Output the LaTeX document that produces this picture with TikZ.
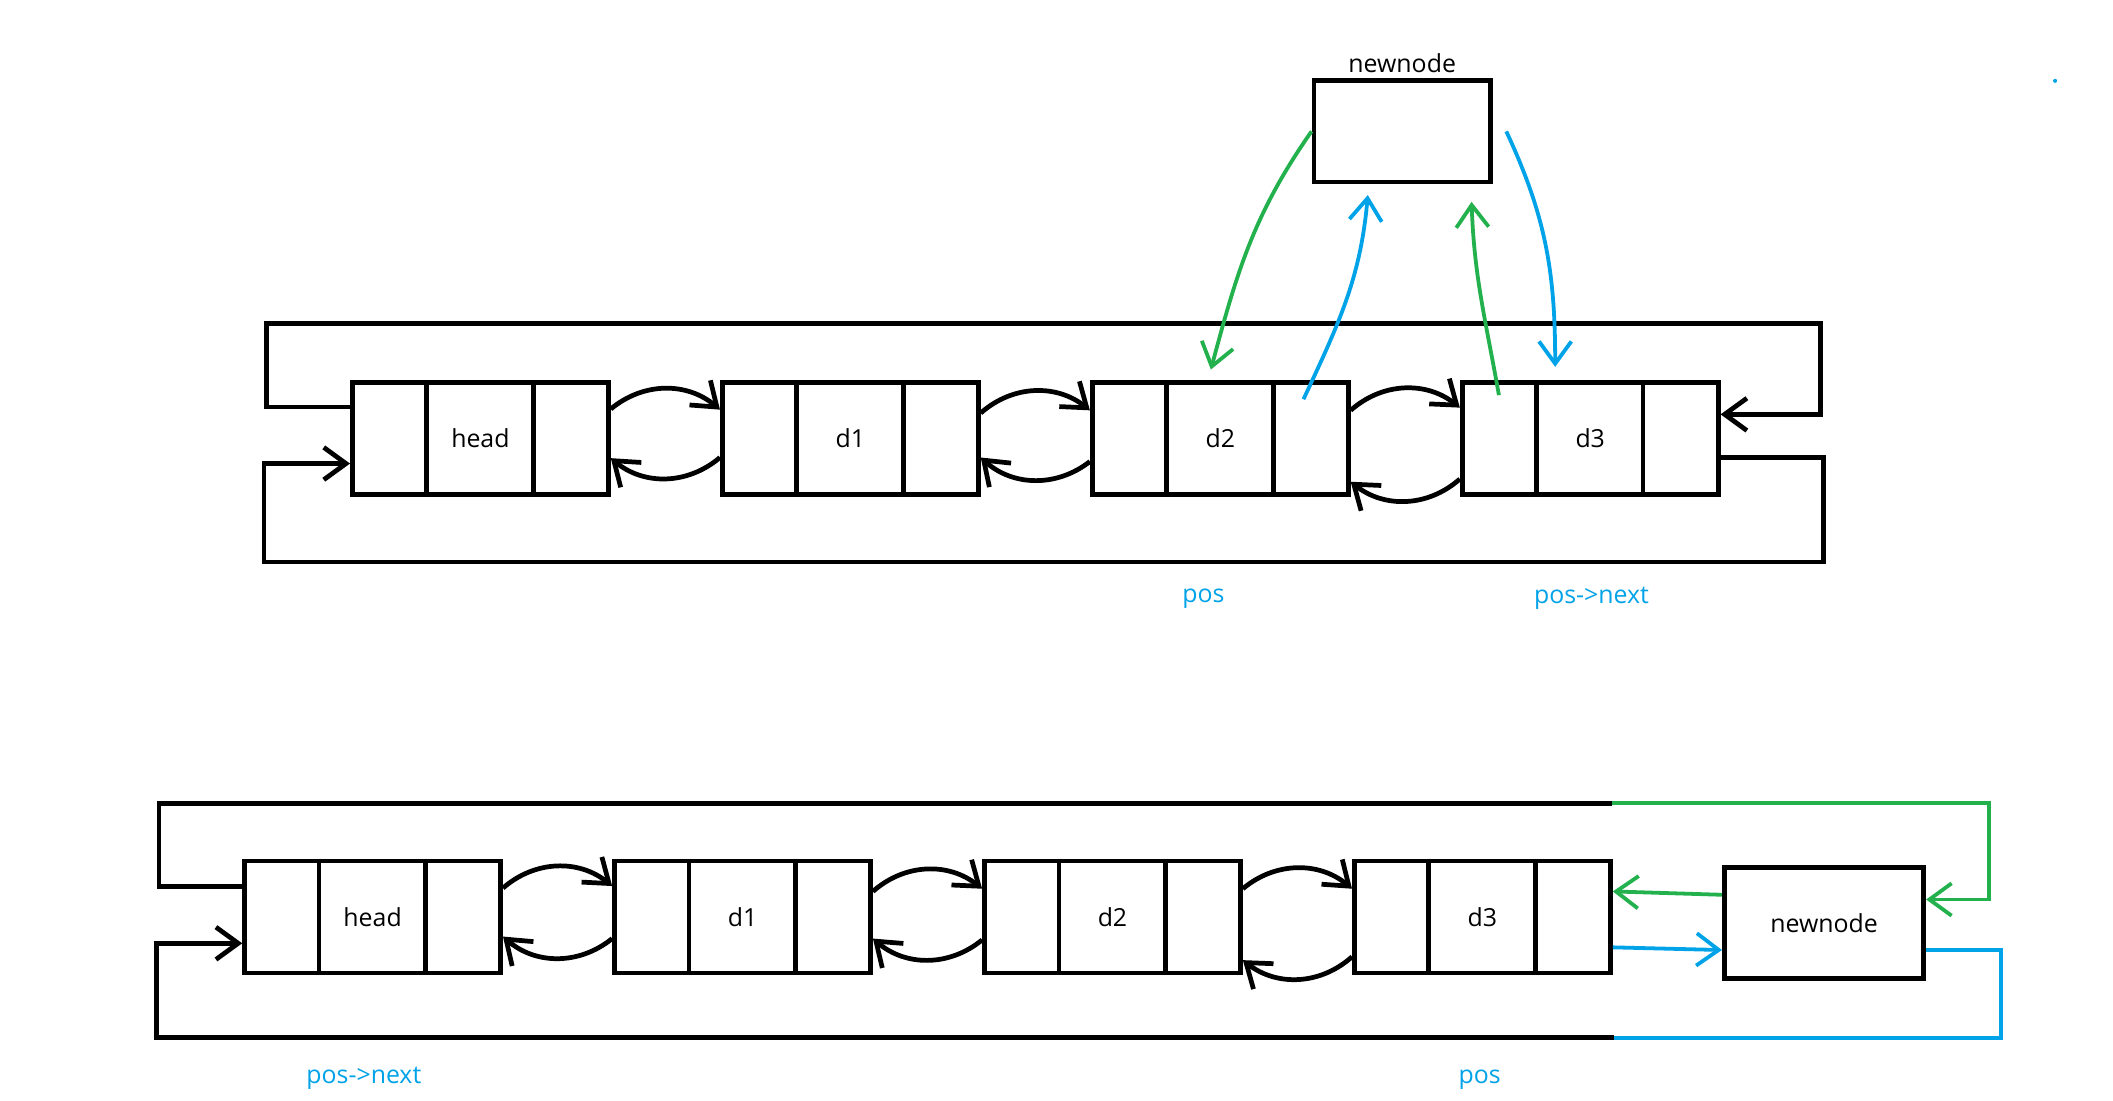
\documentclass[tikz,border=0pt]{standalone}
\usepackage{fontspec}
\setmainfont{Open Sans}
\usetikzlibrary{arrows.meta,positioning}
\definecolor{paintBlue}{RGB}{0,162,232}
\definecolor{paintGreen}{RGB}{34,177,76}

\begin{document}
\begin{tikzpicture}[
    node distance=1.62cm,
    font=\fontsize{10.5}{12}\selectfont,
    cellbox/.style={rectangle, draw, line width=2pt, minimum width=3.8cm, minimum height=1.66cm, inner sep=0pt},
    plainbox/.style={rectangle, draw, line width=2pt, inner sep=0pt},
    wire/.style={line width=2pt},
    arrow/.style={wire, -{Straight Barb[length=3.3mm, width=4.8mm]}},
    ptr/.style={line width=1.6pt, draw=#1},
    ptrarrow/.style={ptr=#1, -{Straight Barb[length=3.3mm, width=4.8mm]}},
    tag/.style={text=paintBlue}
]
\useasboundingbox (0,0) rectangle (31.36,16.34);

% before insertion
\node[cellbox] (th) at (7.13,9.83) {head};
\node[cellbox, right=of th] (t1) {d1};
\node[cellbox, right=of t1] (t2) {d2};
\node[cellbox, right=of t2] (t3) {d3};
\node[plainbox, minimum width=2.62cm, minimum height=1.5cm, label={[label distance=-0.4mm]above:newnode}] (tn) at (20.81,14.39) {};

% after insertion
\node[cellbox] (bh) at (5.53,2.73) {head};
\node[cellbox, right=of bh] (b1) {d1};
\node[cellbox, right=of b1] (b2) {d2};
\node[cellbox, right=of b2] (b3) {d3};
\node[plainbox, minimum width=2.96cm, minimum height=1.64cm, right=of b3, yshift=-0.09cm] (bn) {newnode};

% prev / next cells
\foreach \n in {th,t1,t2,t3,bh,b1,b2,b3} {
  \draw[wire] ([xshift=1.14cm]\n.north west) -- ([xshift=1.14cm]\n.south west);
  \draw[wire] ([xshift=2.72cm]\n.north west) -- ([xshift=2.72cm]\n.south west);
}

% links, top row
\draw[arrow] ([yshift=4.4mm]th.east) to[bend left=40] ([yshift=4.3mm]t1.west);
\draw[arrow] ([yshift=-2.8mm]t1.west) to[bend left=40] ([yshift=-2.9mm]th.east);
\draw[arrow] ([yshift=3.8mm]t1.east) to[bend left=40] ([yshift=4.2mm]t2.west);
\draw[arrow] ([yshift=-3.4mm]t2.west) to[bend left=40] ([yshift=-2.8mm]t1.east);
\draw[arrow] ([yshift=4.2mm]t2.east) to[bend left=40] ([yshift=4.6mm]t3.west);
\draw[arrow] ([yshift=-6mm]t3.west) to[bend left=40] ([yshift=-6.4mm]t2.east);

\coordinate (tl) at (3.96,11.54);
\coordinate (tr) at (27.02,11.54);
\draw[arrow] ([yshift=4.7mm]th.west) -| (tl) -- (tr) |- ([yshift=3.6mm]t3.east);
\coordinate (bl) at (3.92,8.0);
\coordinate (br) at (27.06,8.0);
\draw[arrow] ([yshift=-2.8mm]t3.east) -| (br) -- (bl) |- ([yshift=-3.7mm]th.west);

\draw[ptrarrow=paintGreen] (tn.west) to[out=235, in=75] ([xshift=-1.4mm, yshift=1.6mm]t2.north);
\draw[ptrarrow=paintBlue] ([xshift=-7mm, yshift=-2.8mm]t2.north east) to[out=65, in=-95] ([xshift=-5.1mm, yshift=-1.6mm]tn.south);
\draw[ptrarrow=paintGreen] ([xshift=5.8mm, yshift=-2.2mm]t3.north west) to[out=100, in=-88] ([xshift=10.3mm, yshift=-2.6mm]tn.south);
\draw[ptrarrow=paintBlue] ([xshift=2mm]tn.east) to[out=-65, in=90] ([xshift=-5.2mm, yshift=2mm]t3.north);

\node[tag] (tpos) at (17.86,7.46) {pos};
\node[tag] (tnext) at (23.62,7.46) {pos->next};

% links, bottom row
\draw[arrow] ([yshift=4.3mm]bh.east) to[bend left=40] ([yshift=4.6mm]b1.west);
\draw[arrow] ([yshift=-3.2mm]b1.west) to[bend left=40] ([yshift=-2.9mm]bh.east);
\draw[arrow] ([yshift=3.8mm]b1.east) to[bend left=40] ([yshift=4.2mm]b2.west);
\draw[arrow] ([yshift=-3.4mm]b2.west) to[bend left=40] ([yshift=-3.2mm]b1.east);
\draw[arrow] ([yshift=4.2mm]b2.east) to[bend left=40] ([yshift=4.2mm]b3.west);
\draw[arrow] ([yshift=-5.9mm]b3.west) to[bend left=40] ([yshift=-6.4mm]b2.east);

\coordinate (ul) at (2.36,4.42);
\coordinate (gsplit) at (23.92,4.42);
\coordinate (ur) at (29.52,4.42);
\draw[wire] ([yshift=4.5mm]bh.west) -| (ul) -- (gsplit);
\draw[ptrarrow=paintGreen] (gsplit) -- (ur) |- ([yshift=3.5mm]bn.east);
\draw[ptrarrow=paintGreen] ([yshift=4.2mm]bn.west) -- ([yshift=3.8mm]b3.east);
\draw[ptrarrow=paintBlue] ([yshift=-4.5mm]b3.east) -- ([yshift=-4mm]bn.west);

\coordinate (lr) at (29.7,0.94);
\coordinate (bsplit) at (23.96,0.94);
\coordinate (ll) at (2.32,0.94);
\draw[ptr=paintBlue] ([yshift=-4mm]bn.east) -| (lr) -- (bsplit);
\draw[arrow] (bsplit) -- (ll) |- ([yshift=-3.9mm]bh.west);

\node[tag] (bnext) at (5.4,0.34) {pos->next};
\node[tag] (bpos) at (21.96,0.32) {pos};

\fill[paintBlue] (30.5,15.14) circle (0.03);
\end{tikzpicture}
\end{document}
